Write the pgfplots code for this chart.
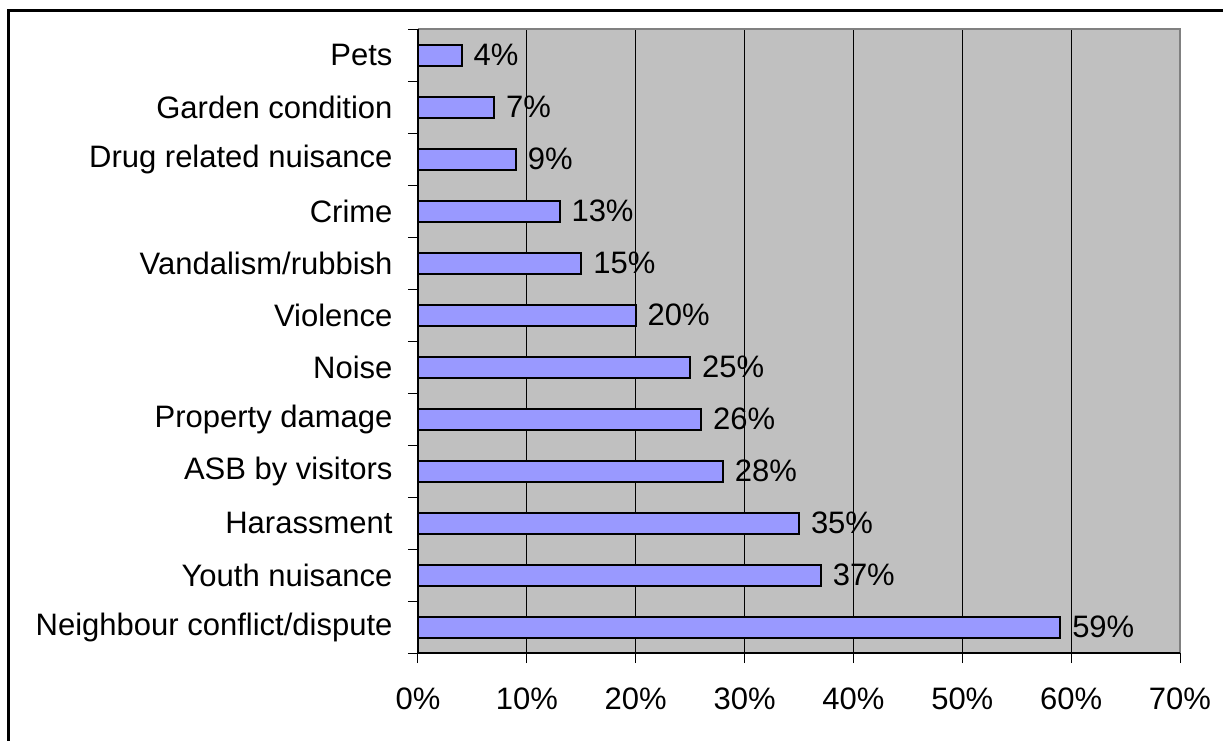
\documentclass[border=0pt]{standalone}
\usepackage{pgfplots}
\pgfplotsset{compat=1.18}
\usepackage{fontspec}
\setmainfont{Liberation Sans}
\definecolor{plotbg}{HTML}{C0C0C0}
\definecolor{barfill}{HTML}{9999FF}
\definecolor{frameedge}{HTML}{808080}
\newcommand\fsz{\fontsize{31}{37}\selectfont}

\begin{document}
\begin{tikzpicture}[x=1pt,y=1pt]
\useasboundingbox (0,0) rectangle (1223,-740);
% outer chart frame
\draw[line width=3pt] (8,-745) -- (8,-10) -- (1230,-10);
\begin{axis}[
  at={(418pt,-653pt)}, anchor=south west,
  scale only axis, width=762pt, height=624pt,
  xmin=0, xmax=70, ymin=-0.5, ymax=11.5,
  xbar, bar width=21pt,
  axis background/.style={fill=plotbg},
  axis line style={draw=none},
  /pgf/number format/assume math mode=true,
  xtick={0,10,...,70},
  xtick pos=bottom, ytick pos=left,
  xticklabel={\pgfmathprintnumber{\tick}\%},
  xmajorgrids, major grid style={black, line width=1pt},
  ytick={-0.5,0.5,...,11.5}, yticklabels={},
  extra y ticks={0,1,...,11},
  extra y tick labels={Neighbour conflict/dispute, Youth nuisance, Harassment, ASB by visitors, Property damage, Noise, Violence, Vandalism/rubbish, Crime, Drug related nuisance, Garden condition, Pets},
  extra y tick style={tick style={draw=none}, major tick length=0pt},
  tick align=outside, major tick length=10pt,
  tick style={black, line width=1pt},
  tick label style={font=\fsz},
  xticklabel style={yshift=-21pt},
  yticklabel style={xshift=-22pt},
  point meta=x,
  nodes near coords={\pgfmathprintnumber{\pgfplotspointmeta}\%},
  nodes near coords align=horizontal,
  every node near coord/.append style={font=\fsz, anchor=west, inner sep=0pt, xshift=11pt},
  clip=false,
]
\addplot[fill=barfill, draw=black, line width=2pt] coordinates {
  (59,0) (37,1) (35,2) (28,3) (26,4) (25,5)
  (20,6) (15,7) (13,8) (9,9) (7,10) (4,11)
};
\draw[frameedge, line width=2pt] (rel axis cs:0,1) -- (rel axis cs:1,1) -- (rel axis cs:1,0);
\draw[black, line width=1.5pt] (rel axis cs:0,1) -- (rel axis cs:0,0) -- (rel axis cs:1,0);
\end{axis}
\end{tikzpicture}
\end{document}
